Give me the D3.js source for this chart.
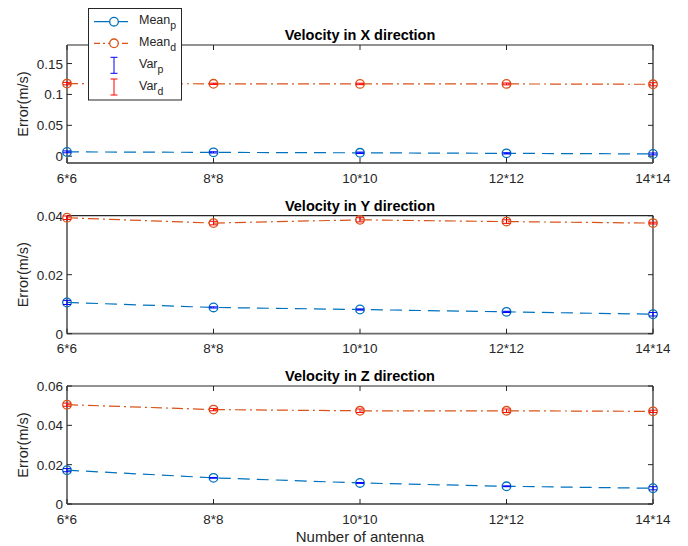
<!DOCTYPE html>
<html><head><meta charset="utf-8">
<script src="https://cdn.jsdelivr.net/npm/d3@7"></script>
<style>body{margin:0;background:#fff}svg{display:block;font-family:"Liberation Sans",Arial,sans-serif}</style>
</head><body><svg id="c" width="688" height="546"></svg>
<script>
const categories = ["6*6","8*8","10*10","12*12","14*14"];
const titles = ["Velocity in X direction","Velocity in Y direction","Velocity in Z direction"];
// Panel X
const meanPX = [0.0070,0.0062,0.0055,0.0046,0.0037];
const meanDX = [0.1175,0.1172,0.1170,0.1170,0.1164];
const varPX  = [0.0015,0.0010,0.0012,0.0010,0.0015];
const varDX  = [0.0020,0.0010,0.0012,0.0015,0.0025];
// Panel Y
const meanPY = [0.0106,0.0089,0.0082,0.0074,0.0066];
const meanDY = [0.0393,0.0375,0.0386,0.0380,0.0375];
const varPY  = [0.0007,0.0002,0.0002,0.0002,0.0006];
const varDY  = [0.0006,0.0006,0.0007,0.0006,0.0003];
// Panel Z
const meanPZ = [0.0172,0.0133,0.0107,0.0090,0.0080];
const meanDZ = [0.0505,0.0480,0.0474,0.0474,0.0471];
const varPZ  = [0.0008,0.0002,0.0002,0.0002,0.0008];
const varDZ  = [0.0008,0.0006,0.0009,0.0009,0.0006];
const yDomains = [[-0.011,0.18],[0,0.04],[0,0.06]];
const yTicks = [[0,0.05,0.1,0.15],[0,0.02,0.04],[0,0.02,0.04,0.06]];
const yTickLabels = [["0","0.05","0.1","0.15"],["0","0.02","0.04"],["0","0.02","0.04","0.06"]];
const legendLabels = [["Mean","p"],["Mean","d"],["Var","p"],["Var","d"]];

const panels = [
  {meanP:meanPX, meanD:meanDX, varP:varPX, varD:varDX},
  {meanP:meanPY, meanD:meanDY, varP:varPY, varD:varDY},
  {meanP:meanPZ, meanD:meanDZ, varP:varPZ, varD:varDZ}
];
const tops = [45, 215.7, 386];
const H = 118;
const L = 67, R = 653;
const BLUE = "#0072BD", ORANGE = "#D95319", EB_BLUE = "#0000FF", EB_RED = "#FF0000", AX = "#262626";

const svg = d3.select("#c");
const x = d3.scalePoint().domain(categories).range([L, R]);

panels.forEach((p, i) => {
  const top = tops[i], bot = top + H;
  const y = d3.scaleLinear().domain(yDomains[i]).range([bot, top]);
  const g = svg.append("g");
  // axes box
  g.append("line").attr("x1",L).attr("x2",R).attr("y1",top).attr("y2",top).attr("stroke",AX).attr("stroke-width",1.2);
  g.append("line").attr("x1",R).attr("x2",R).attr("y1",top).attr("y2",bot).attr("stroke",AX).attr("stroke-width",1.2);
  g.append("line").attr("x1",L).attr("x2",R).attr("y1",bot).attr("y2",bot).attr("stroke","#6a6a6a").attr("stroke-width",1.8);
  g.append("line").attr("x1",L).attr("x2",L).attr("y1",top).attr("y2",bot).attr("stroke","#6a6a6a").attr("stroke-width",1.8);
  // x ticks
  categories.forEach(c => {
    g.append("line").attr("x1",x(c)).attr("x2",x(c)).attr("y1",bot).attr("y2",bot-5).attr("stroke",AX);
    g.append("line").attr("x1",x(c)).attr("x2",x(c)).attr("y1",top).attr("y2",top+5).attr("stroke",AX);
    g.append("text").attr("x",x(c)).attr("y",bot+19.5).attr("text-anchor","middle").attr("font-size",13.5).attr("fill",AX).text(c);
  });
  // y ticks
  yTicks[i].forEach((t, k) => {
    g.append("line").attr("x1",L).attr("x2",L+5).attr("y1",y(t)).attr("y2",y(t)).attr("stroke",AX);
    g.append("line").attr("x1",R).attr("x2",R-5).attr("y1",y(t)).attr("y2",y(t)).attr("stroke",AX);
    g.append("text").attr("x",L-4).attr("y",y(t)+5).attr("text-anchor","end").attr("font-size",13.5).attr("fill",AX).text(yTickLabels[i][k]);
  });
  // title
  g.append("text").attr("x",(L+R)/2).attr("y",top-5).attr("text-anchor","middle").attr("font-size",14.5).attr("font-weight","bold").attr("fill","#000").text(titles[i]);
  // y label
  g.append("text").attr("transform",`translate(28,${(top+bot)/2}) rotate(-90)`).attr("text-anchor","middle").attr("font-size",14.5).attr("fill",AX).text("Error(m/s)");

  const line = d3.line().x((d,k)=>x(categories[k])).y(d=>y(d));
  g.append("path").attr("d",line(p.meanP)).attr("fill","none").attr("stroke",BLUE).attr("stroke-width",1.2).attr("stroke-dasharray","12,7");
  g.append("path").attr("d",line(p.meanD)).attr("fill","none").attr("stroke",ORANGE).attr("stroke-width",1.2).attr("stroke-dasharray","11,4,2,4");
  [[p.meanP,BLUE],[p.meanD,ORANGE]].forEach(([arr,col]) => {
    arr.forEach((v,k) => {
      g.append("circle").attr("cx",x(categories[k])).attr("cy",y(v)).attr("r",4.3).attr("fill","none").attr("stroke",col).attr("stroke-width",1.3);
    });
  });
  [[p.meanP,p.varP,EB_BLUE],[p.meanD,p.varD,EB_RED]].forEach(([arr,vr,col]) => {
    arr.forEach((v,k) => {
      const cx = x(categories[k]);
      const y1 = y(v - vr[k]), y2 = y(v + vr[k]);
      g.append("line").attr("x1",cx).attr("x2",cx).attr("y1",y1).attr("y2",y2).attr("stroke",col).attr("stroke-width",1);
      g.append("line").attr("x1",cx-4).attr("x2",cx+4).attr("y1",y1).attr("y2",y1).attr("stroke",col).attr("stroke-width",1);
      g.append("line").attr("x1",cx-4).attr("x2",cx+4).attr("y1",y2).attr("y2",y2).attr("stroke",col).attr("stroke-width",1);
    });
  });
});

// x label
svg.append("text").attr("x",(L+R)/2).attr("y",542).attr("text-anchor","middle").attr("font-size",15).attr("fill",AX).text("Number of antenna");

// legend
const lg = svg.append("g");
lg.append("rect").attr("x",88.5).attr("y",8.5).attr("width",93).attr("height",91.5).attr("fill","#fff").attr("stroke",AX).attr("stroke-width",1);
const rowsY = [21.7, 43.3, 65.3, 87];
const styles = [
  {type:"line", col:BLUE, dash:null},
  {type:"line", col:ORANGE, dash:"6,3,2,3"},
  {type:"eb", col:EB_BLUE},
  {type:"eb", col:EB_RED}
];
styles.forEach((s, i) => {
  const yy = rowsY[i];
  if (s.type === "line") {
    lg.append("line").attr("x1",94).attr("x2",128).attr("y1",yy).attr("y2",yy).attr("stroke",s.col).attr("stroke-width",1.2).attr("stroke-dasharray",s.dash);
    lg.append("circle").attr("cx",114).attr("cy",yy).attr("r",4.3).attr("fill","#fff").attr("stroke",s.col).attr("stroke-width",1.3);
  } else {
    lg.append("line").attr("x1",114).attr("x2",114).attr("y1",yy-8).attr("y2",yy+8).attr("stroke",s.col);
    lg.append("line").attr("x1",110.5).attr("x2",117.5).attr("y1",yy-8).attr("y2",yy-8).attr("stroke",s.col);
    lg.append("line").attr("x1",110.5).attr("x2",117.5).attr("y1",yy+8).attr("y2",yy+8).attr("stroke",s.col);
  }
  const t = lg.append("text").attr("x",139).attr("y",yy+2.5).attr("font-size",12.5).attr("fill",AX);
  t.append("tspan").text(legendLabels[i][0]);
  t.append("tspan").attr("dy",5).attr("font-size",10.5).text(legendLabels[i][1]);
});
</script></body></html>
